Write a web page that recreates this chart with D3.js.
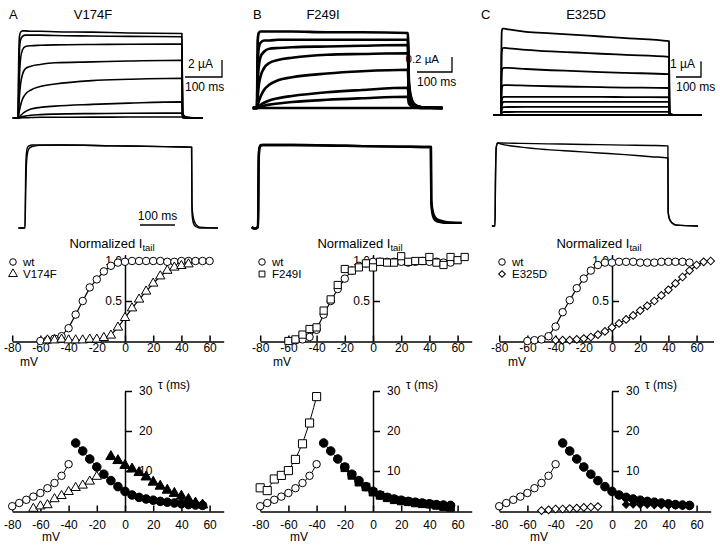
<!DOCTYPE html>
<html><head><meta charset="utf-8">
<script src="https://cdn.jsdelivr.net/npm/d3@7/dist/d3.min.js"></script>
<style>
html,body{margin:0;padding:0;background:#fff;}
svg{display:block;}
text{font-family:"Liberation Sans",Arial,Helvetica,sans-serif;fill:#000;}
</style></head><body>
<svg id="fig" width="720" height="547"></svg>
<script>
// ================= DATA =================
const panelLetters = ["A", "B", "C"];
const mutantNames = ["V174F", "F249I", "E325D"];
const scaleBarLabels = ["2 µA", "0.2 µA", "1 µA"];
const scaleBarCurrent = [2, 0.2, 1];   // µA
const scaleBarTime = 100;              // ms
const voltTicks = [-80, -60, -40, -20, 0, 20, 40, 60];
const gvYTicks = [0.5, 1.0];
const tauYTicks = [10, 20, 30];

// Row 1: current families (µA) sampled at times (ms)
const rawTimeA = [-14, 0, 2, 4, 7, 12, 20, 35, 60, 100, 200, 300, 443, 445, 450, 460, 500];
const rawCurrentA = [
  [0, 0, 7.0, 9.6, 10.1, 10.25, 10.25, 10.2, 10.2, 10.15, 10.1, 10.0, 9.95, 0.6, 0.2, 0.05, 0],
  [0, 0, 5.0, 8.0, 9.2, 9.6, 9.75, 9.75, 9.75, 9.7, 9.65, 9.6, 9.55, 0.55, 0.2, 0.05, 0],
  [0, 0, 2.5, 5.0, 7.0, 8.0, 8.4, 8.5, 8.55, 8.6, 8.65, 8.67, 8.7, 0.5, 0.18, 0.05, 0],
  [0, 0, 1.2, 2.6, 4.0, 5.1, 5.8, 6.1, 6.3, 6.5, 6.6, 6.7, 6.8, 0.4, 0.15, 0.04, 0],
  [0, 0, 0.4, 0.9, 1.5, 2.2, 2.8, 3.3, 3.7, 4.0, 4.4, 4.55, 4.67, 0.3, 0.1, 0.03, 0],
  [0, 0, 0.05, 0.15, 0.3, 0.5, 0.75, 1.05, 1.25, 1.4, 1.6, 1.75, 1.9, 0.15, 0.05, 0.02, 0],
  [0, 0, 0.02, 0.05, 0.1, 0.16, 0.24, 0.33, 0.4, 0.46, 0.52, 0.55, 0.58, 0.05, 0.02, 0, 0],
  [0, 0, 0, 0.01, 0.02, 0.03, 0.04, 0.06, 0.08, 0.09, 0.1, 0.11, 0.12, 0.02, 0, 0, 0]
];
const rawTimeB = [-12, 0, 2, 5, 10, 20, 35, 60, 100, 200, 300, 431, 434, 440, 450, 470, 530];
const rawCurrentB = [
  [0, 0, 0.9, 1.0, 1.02, 1.02, 1.02, 1.02, 1.02, 1.01, 1.01, 1.0, 0.35, 0.15, 0.05, 0.01, 0],
  [0, 0, 0.6, 0.8, 0.87, 0.9, 0.9, 0.91, 0.91, 0.91, 0.91, 0.91, 0.3, 0.13, 0.04, 0.01, 0],
  [0, 0, 0.35, 0.55, 0.68, 0.75, 0.79, 0.8, 0.81, 0.82, 0.83, 0.84, 0.28, 0.12, 0.04, 0.01, 0],
  [0, 0, 0.15, 0.3, 0.42, 0.53, 0.6, 0.64, 0.67, 0.71, 0.72, 0.73, 0.25, 0.1, 0.03, 0.01, 0],
  [0, 0, 0.04, 0.09, 0.15, 0.24, 0.31, 0.37, 0.41, 0.46, 0.49, 0.51, 0.18, 0.08, 0.03, 0.01, 0],
  [0, 0, 0.01, 0.02, 0.04, 0.07, 0.1, 0.13, 0.16, 0.21, 0.24, 0.27, 0.1, 0.05, 0.02, 0, 0],
  [0, 0, 0, 0.01, 0.015, 0.03, 0.045, 0.06, 0.08, 0.11, 0.13, 0.15, 0.06, 0.03, 0.01, 0, 0],
  [0, 0, 0, 0, 0, 0, 0, 0, 0, 0, 0, 0, 0, 0, 0, 0, 0]
];
const rawTimeC = [-32, 0, 1, 3, 6, 12, 30, 100, 200, 300, 400, 500, 672, 674, 680, 695, 804];
const rawCurrentC = [
  [0, 0, 3.0, 5.3, 5.5, 5.5, 5.45, 5.3, 5.2, 5.1, 5.0, 4.9, 4.7, 0.2, 0.05, 0, 0],
  [0, 0, 2.0, 4.0, 4.25, 4.27, 4.25, 4.15, 4.05, 3.98, 3.9, 3.83, 3.7, 0.15, 0.05, 0, 0],
  [0, 0, 1.2, 2.7, 2.95, 3.0, 3.0, 2.93, 2.85, 2.8, 2.73, 2.68, 2.6, 0.1, 0.03, 0, 0],
  [0, 0, 0.6, 1.6, 1.85, 1.9, 1.9, 1.87, 1.83, 1.8, 1.77, 1.75, 1.72, 0.08, 0.02, 0, 0],
  [0, 0, 0.3, 0.9, 1.1, 1.15, 1.16, 1.16, 1.15, 1.15, 1.15, 1.14, 1.13, 0.05, 0.02, 0, 0],
  [0, 0, 0.2, 0.6, 0.78, 0.83, 0.84, 0.84, 0.84, 0.83, 0.83, 0.83, 0.83, 0.04, 0.01, 0, 0],
  [0, 0, 0.1, 0.35, 0.47, 0.5, 0.51, 0.52, 0.52, 0.52, 0.52, 0.52, 0.52, 0.02, 0, 0, 0],
  [0, 0, 0.04, 0.12, 0.17, 0.19, 0.19, 0.2, 0.2, 0.2, 0.2, 0.2, 0.2, 0.01, 0, 0, 0],
  [0, 0, 0, 0, 0, 0, 0, 0, 0, 0, 0, 0, 0, 0, 0, 0, 0]
];

// Row 2: normalized currents, wt vs mutant
const normTimeA = [-19, 0, 2, 4, 7, 12, 20, 40, 100, 250, 400, 476, 477, 479, 483, 489, 499, 551];
const normWtA   = [0, 0, 0.7, 0.9, 0.97, 0.99, 1.0, 1.0, 1.0, 0.99, 0.98, 0.975, 0.2, 0.1, 0.04, 0.015, 0, 0];
const normMutA  = [0, 0, 0.45, 0.75, 0.9, 0.96, 0.98, 0.995, 1.0, 0.99, 0.98, 0.975, 0.3, 0.18, 0.09, 0.04, 0.01, 0];
const normTimeB = [-18, -10, 0, 2, 4, 8, 15, 40, 100, 250, 400, 494, 495, 498, 503, 510, 520, 540, 582];
const normWtB   = [0, -0.02, 0, 0.85, 0.97, 1.0, 1.0, 1.0, 1.0, 0.99, 0.98, 0.975, 0.3, 0.17, 0.1, 0.07, 0.06, 0.05, 0.05];
const normMutB  = [0, -0.02, 0, 0.8, 0.95, 0.99, 1.0, 1.0, 1.0, 0.99, 0.98, 0.975, 0.35, 0.22, 0.14, 0.1, 0.08, 0.06, 0.05];
const normTimeC = [-12, 0, 2, 5, 10, 20, 100, 200, 300, 400, 500, 600, 665, 666, 670, 680, 700, 781];
const normWtC   = [0, 0, 0.6, 0.95, 1.0, 1.0, 0.995, 0.99, 0.985, 0.98, 0.975, 0.97, 0.965, 0.18, 0.1, 0.04, 0.01, 0];
const normMutC  = [0, 0, 0.6, 0.95, 1.0, 0.99, 0.95, 0.92, 0.9, 0.88, 0.86, 0.835, 0.82, 0.16, 0.09, 0.04, 0.01, 0];

// Row 3: normalized tail current vs voltage (mV)
const gvWtVoltA = [-60, -55, -50, -45, -40, -35, -30, -25, -20, -15, -10, -5, 0, 5, 10, 15, 20, 25, 30, 35, 40, 45, 50, 55, 60];
const gvWtA     = [0, 0.01, 0.03, 0.06, 0.16, 0.33, 0.5, 0.67, 0.77, 0.87, 0.94, 0.98, 0.99, 1.0, 1.0, 1.0, 1.0, 1.0, 0.99, 0.99, 1.0, 1.0, 1.0, 1.0, 1.0];
const gvMutVoltA = [-55, -50, -45, -40, -35, -30, -25, -20, -15, -10, -5, 0, 5, 10, 15, 20, 25, 30, 35, 40, 45];
const gvMutA     = [0.01, 0.01, 0.02, 0.01, 0.01, 0.01, 0.02, 0.02, 0.04, 0.07, 0.17, 0.29, 0.41, 0.52, 0.62, 0.72, 0.81, 0.88, 0.92, 0.94, 0.96];
const gvWtVoltB = [-60, -55, -50, -45, -40, -35, -30, -25, -20, -15, -10, -5, 0, 5, 10, 15, 20, 25, 30, 35, 40, 45, 50, 55];
const gvWtB     = [0, 0.01, 0.02, 0.05, 0.14, 0.33, 0.5, 0.65, 0.78, 0.88, 0.94, 0.97, 0.99, 0.99, 0.99, 0.99, 0.99, 0.98, 0.99, 1.0, 0.99, 0.99, 0.98, 0.98];
const gvMutVoltB = [-60, -55, -50, -45, -40, -35, -30, -25, -20, -15, -10, -5, 0, 5, 10, 15, 20, 25, 30, 35, 40, 45, 50, 55, 60, 65];
const gvMutB     = [0, 0.02, 0.08, 0.15, 0.17, 0.38, 0.52, 0.7, 0.9, 0.88, 0.92, 0.97, 0.92, 0.99, 0.98, 0.98, 1.06, 0.99, 1.0, 1.0, 1.05, 0.98, 0.95, 1.05, 1.01, 1.05];
const gvWtVoltC = [-60, -55, -50, -45, -40, -35, -30, -25, -20, -15, -10, -5, 0, 5, 10, 15, 20, 25, 30, 35, 40, 45, 50, 55];
const gvWtC     = [0, 0.01, 0.02, 0.06, 0.18, 0.36, 0.51, 0.66, 0.78, 0.88, 0.95, 0.98, 0.98, 0.99, 0.99, 0.99, 0.98, 0.98, 0.98, 0.99, 0.99, 0.99, 0.99, 0.98];
const gvMutVoltC = [-40, -35, -30, -25, -20, -15, -10, -5, 0, 5, 10, 15, 20, 25, 30, 35, 40, 45, 50, 55, 60, 65, 70];
const gvMutC     = [0.01, 0.01, 0.01, 0.02, 0.03, 0.05, 0.08, 0.12, 0.17, 0.22, 0.27, 0.32, 0.38, 0.44, 0.5, 0.57, 0.64, 0.72, 0.8, 0.88, 0.95, 0.99, 1.0];

// Row 4: time constants tau (ms) vs voltage (mV)
const tauWtDeactVolt = [-80, -75, -70, -65, -60, -55, -50, -45, -40];
const tauWtDeact     = [1.2, 2.0, 2.8, 3.6, 4.5, 5.7, 7.0, 8.8, 11.7];
const tauWtActVolt = [-35, -30, -25, -20, -15, -10, -5, 0, 5, 10, 15, 20, 25, 30, 35, 40, 45, 50, 55];
const tauWtAct     = [17, 15, 13, 11, 9.2, 7.6, 6.1, 4.9, 4.0, 3.4, 3.0, 2.7, 2.4, 2.2, 2.0, 1.8, 1.6, 1.5, 1.4];
const tauMutDeactVoltA = [-65, -60, -55, -50, -45, -40, -35, -30, -25, -20];
const tauMutDeactA     = [0.6, 1.2, 1.5, 3.0, 3.8, 4.8, 5.8, 6.4, 7.4, 8.6];
const tauMutActVoltA = [-10, -5, 0, 5, 10, 15, 20, 25, 30, 35, 40, 45, 50, 55];
const tauMutActA     = [13.6, 12.6, 11.4, 10.5, 9.6, 8.5, 7.2, 6.2, 5.2, 4.4, 3.7, 2.9, 2.0, 1.5];
const tauMutDeactVoltB = [-80, -75, -70, -65, -60, -55, -50, -45, -40];
const tauMutDeactB     = [5.8, 5.1, 8.0, 8.9, 10.1, 12.9, 16.8, 22.0, 28.6];
const tauMutActVoltB = [-20, -15, -10, -5, 0, 5, 10, 15, 20, 25, 30, 35, 40, 45, 50, 55];
const tauMutActB     = [10.8, 8.9, 7.2, 6.0, 4.7, 3.9, 3.3, 2.8, 2.5, 2.3, 2.0, 1.8, 1.7, 1.4, 1.1, 0.9];
const tauMutDeactVoltC = [-50, -45, -40, -35, -30, -25, -20, -15, -10];
const tauMutDeactC     = [0.1, 0.3, 0.5, 0.5, 0.6, 0.7, 0.9, 1.0, 1.1];
const tauMutActVoltC = [10, 15, 20, 25, 30, 35, 40, 45, 50, 55];
const tauMutActC     = [1.6, 1.7, 1.6, 1.6, 1.5, 1.5, 1.4, 1.4, 1.3, 1.3];

// ================= DRAWING =================
(function () {
  const svg = d3.select("#fig");
  const FONT = '"Liberation Sans",Arial,Helvetica,sans-serif';
  function txt(x, y, s, size, anchor) {
    return svg.append("text").attr("x", x).attr("y", y).attr("font-size", size)
      .attr("text-anchor", anchor || "start").text(s);
  }
  function styleAxis(g) {
    g.attr("font-family", FONT);
    g.select(".domain").attr("stroke", "#000").attr("stroke-width", 1.5);
    g.selectAll(".tick line").attr("stroke", "#000").attr("stroke-width", 1.5);
    g.selectAll(".tick text").attr("font-size", 12).attr("fill", "#000");
  }

  // ---- header ----
  const letterX = [9, 253, 481], titleX = [93, 323, 586];
  panelLetters.forEach((L, i) => {
    txt(letterX[i], 19, L, 13);
    txt(titleX[i], 19, mutantNames[i], 13, "middle");
  });

  // ---- row 1 ----
  const row1 = [
    { x0: 18, ppm: 0.37, base: 118, ppu: 8.5, barX: 222, barY: 77, lw: 1.6, gap: 9, fs: 12, t: rawTimeA, c: rawCurrentA },
    { x0: 257, ppm: 0.35, base: 108, ppu: 75, barX: 452, barY: 72, lw: 2.7, gap: 13, fs: 11.5, t: rawTimeB, c: rawCurrentB },
    { x0: 501, ppm: 0.25, base: 115, ppu: 15.7, barX: 701, barY: 77, lw: 1.8, gap: 6, fs: 12, t: rawTimeC, c: rawCurrentC }
  ];
  row1.forEach((p, i) => {
    const x = d3.scaleLinear().domain([0, 100]).range([p.x0, p.x0 + 100 * p.ppm]);
    const y = d3.scaleLinear().domain([0, 1]).range([p.base, p.base - p.ppu]);
    const line = d3.line().x((d, j) => x(p.t[j])).y(d => y(d)).curve(d3.curveMonotoneX);
    svg.append("g").selectAll("path").data(p.c).join("path").attr("d", line)
      .attr("fill", "none").attr("stroke", "#000").attr("stroke-width", p.lw)
      .attr("stroke-linejoin", "round");
    const barH = y(0) - y(scaleBarCurrent[i]);
    const barW = x(scaleBarTime) - x(0);
    svg.append("path").attr("d", `M${p.barX},${p.barY - barH}V${p.barY}H${p.barX - barW}`)
      .attr("fill", "none").attr("stroke", "#000").attr("stroke-width", 1.3);
    txt(p.barX - p.gap, p.barY - 9, scaleBarLabels[i], p.fs, "end");
    txt(p.barX - barW, p.barY + 14, scaleBarTime + " ms", 12, "start");
  });

  // ---- row 2 ----
  const row2 = [
    { x0: 25, ppm: 0.35, base: 228, h: 83, lw: 1.4, t: normTimeA, s: [normWtA, normMutA] },
    { x0: 258, ppm: 0.35, base: 227, h: 82, lw: 2.4, t: normTimeB, s: [normWtB, normMutB] },
    { x0: 495, ppm: 0.26, base: 226, h: 83, lw: 1.4, t: normTimeC, s: [normWtC, normMutC] }
  ];
  row2.forEach((p, i) => {
    const x = d3.scaleLinear().domain([0, 100]).range([p.x0, p.x0 + 100 * p.ppm]);
    const y = d3.scaleLinear().domain([0, 1]).range([p.base, p.base - p.h]);
    const line = d3.line().x((d, j) => x(p.t[j])).y(d => y(d)).curve(d3.curveMonotoneX);
    svg.append("g").selectAll("path").data(p.s).join("path").attr("d", line)
      .attr("fill", "none").attr("stroke", "#000").attr("stroke-width", p.lw)
      .attr("stroke-linejoin", "round");
    if (i === 0) {
      const bx = 140, by = 225, bw = x(scaleBarTime) - x(0);
      svg.append("line").attr("x1", bx).attr("x2", bx + bw).attr("y1", by).attr("y2", by)
        .attr("stroke", "#000").attr("stroke-width", 1.3);
      txt(bx + bw / 2, by - 5, scaleBarTime + " ms", 12, "middle");
    }
  });

  // ---- markers ----
  function symType(shape) {
    return shape === "circle" ? d3.symbolCircle : shape === "triangle" ? d3.symbolTriangle : d3.symbolSquare;
  }
  function markers(g, x, y, volts, vals, shape, filled, size) {
    g.append("g").selectAll("path").data(volts).join("path")
      .attr("transform", (d, i) => `translate(${x(d)},${y(vals[i])})` + (shape === "diamond" ? " rotate(45)" : ""))
      .attr("d", d3.symbol().type(symType(shape)).size(size))
      .attr("fill", filled ? "#000" : "#fff").attr("stroke", "#000").attr("stroke-width", 1);
  }
  function curve(g, x, y, volts, vals, curveType, lw) {
    const line = d3.line().x((d, i) => x(volts[i])).y(d => y(d)).curve(curveType);
    g.append("path").datum(vals).attr("d", line).attr("fill", "none")
      .attr("stroke", "#000").attr("stroke-width", lw || 1);
  }

  const zeroX = [125, 373, 612], ppmv = 1.41;
  const shapes = ["triangle", "square", "diamond"];
  const mutSize = { triangle: 38, square: 52, diamond: 30 };
  const mutSizeFilled = { triangle: 46, square: 58, diamond: 28 };

  // ---- row 3 ----
  const gv = [
    { wv: gvWtVoltA, w: gvWtA, mv: gvMutVoltA, m: gvMutA, fitMut: true, xmax: 70 },
    { wv: gvWtVoltB, w: gvWtB, mv: gvMutVoltB, m: gvMutB, fitMut: false, xmax: 70 },
    { wv: gvWtVoltC, w: gvWtC, mv: gvMutVoltC, m: gvMutC, fitMut: true, xmax: 72 }
  ];
  const gvTitleX = [112, 360, 599], legX = [13, 262, 502], gvMvX = [20, 273, 508];
  gv.forEach((p, i) => {
    const z = zeroX[i];
    const x = d3.scaleLinear().domain([-80, p.xmax]).range([z - 80 * ppmv, z + p.xmax * ppmv]);
    const y = d3.scaleLinear().domain([0, 1.08]).range([341, 341 - 1.08 * 80]);
    const gx = svg.append("g").attr("transform", "translate(0,341.5)")
      .call(d3.axisBottom(x).tickValues(voltTicks).tickFormat(d => String(d))
        .tickSizeInner(-6).tickSizeOuter(0).tickPadding(1.5));
    styleAxis(gx);
    const gy = svg.append("g").attr("transform", `translate(${z},0)`)
      .call(d3.axisLeft(y).tickValues(gvYTicks).tickFormat(d3.format(".1f"))
        .tickSizeInner(-7).tickSizeOuter(0).tickPadding(3));
    styleAxis(gy);
    const gm = svg.append("g");
    curve(gm, x, y, p.wv, p.w, d3.curveBasis, 1.2);
    if (p.fitMut) curve(gm, x, y, p.mv, p.m, d3.curveBasis, 1.2);
    markers(gm, x, y, p.wv, p.w, "circle", false, 44);
    markers(gm, x, y, p.mv, p.m, shapes[i], false, mutSize[shapes[i]]);
    // title
    const t = svg.append("text").attr("x", gvTitleX[i]).attr("y", 248).attr("font-size", 13)
      .attr("text-anchor", "middle");
    t.append("tspan").text("Normalized I");
    t.append("tspan").attr("font-size", 9.5).attr("dy", 3).text("tail");
    // legend
    const lg = svg.append("g");
    const lx = legX[i];
    lg.append("path").attr("transform", `translate(${lx},262)`).attr("d", d3.symbol().type(d3.symbolCircle).size(34)())
      .attr("fill", "#fff").attr("stroke", "#000");
    lg.append("path").attr("transform", `translate(${lx},274)` + (shapes[i] === "diamond" ? " rotate(45)" : ""))
      .attr("d", d3.symbol().type(symType(shapes[i])).size(shapes[i] === "diamond" ? 22 : 34)())
      .attr("fill", "#fff").attr("stroke", "#000");
    txt(lx + 10, 265.5, "wt", 11.5);
    txt(lx + 10, 278, mutantNames[i], 11.5);
    txt(gvMvX[i], 365.5, "mV", 12);
  });

  // ---- row 4 ----
  const tau = [
    { dv: tauMutDeactVoltA, d: tauMutDeactA, av: tauMutActVoltA, a: tauMutActA },
    { dv: tauMutDeactVoltB, d: tauMutDeactB, av: tauMutActVoltB, a: tauMutActB },
    { dv: tauMutDeactVoltC, d: tauMutDeactC, av: tauMutActVoltC, a: tauMutActC }
  ];
  const tauMvX = [42, 290, 530];
  tau.forEach((p, i) => {
    const z = zeroX[i];
    const xmax = 70;
    const x = d3.scaleLinear().domain([-80, xmax]).range([z - 80 * ppmv, z + xmax * ppmv]);
    const y = d3.scaleLinear().domain([0, 30]).range([511, 391]);
    const gx = svg.append("g").attr("transform", "translate(0,511.5)")
      .call(d3.axisBottom(x).tickValues(voltTicks).tickFormat(d => String(d))
        .tickSizeInner(-6).tickSizeOuter(0).tickPadding(8.5));
    styleAxis(gx);
    const gy = svg.append("g").attr("transform", `translate(${z},0)`)
      .call(d3.axisRight(y).tickValues(tauYTicks).tickFormat(d => String(d))
        .tickSizeInner(7).tickSizeOuter(0).tickPadding(7));
    styleAxis(gy);
    const gm = svg.append("g");
    curve(gm, x, y, tauWtDeactVolt, tauWtDeact, d3.curveMonotoneX, 1);
    curve(gm, x, y, tauWtActVolt, tauWtAct, d3.curveMonotoneX, 1);
    curve(gm, x, y, p.dv, p.d, i === 1 ? d3.curveBasis : d3.curveMonotoneX, 1);
    curve(gm, x, y, p.av, p.a, d3.curveMonotoneX, 1);
    markers(gm, x, y, tauWtDeactVolt, tauWtDeact, "circle", false, 44);
    markers(gm, x, y, tauWtActVolt, tauWtAct, "circle", true, 58);
    markers(gm, x, y, p.dv, p.d, shapes[i], false, mutSize[shapes[i]] + (i === 1 ? 14 : 0));
    markers(gm, x, y, p.av, p.a, shapes[i], true, mutSizeFilled[shapes[i]]);
    txt(z + 33, 389, "τ (ms)", 12);
    txt(tauMvX[i], 541, "mV", 12);
  });
})();
</script>
</body></html>
